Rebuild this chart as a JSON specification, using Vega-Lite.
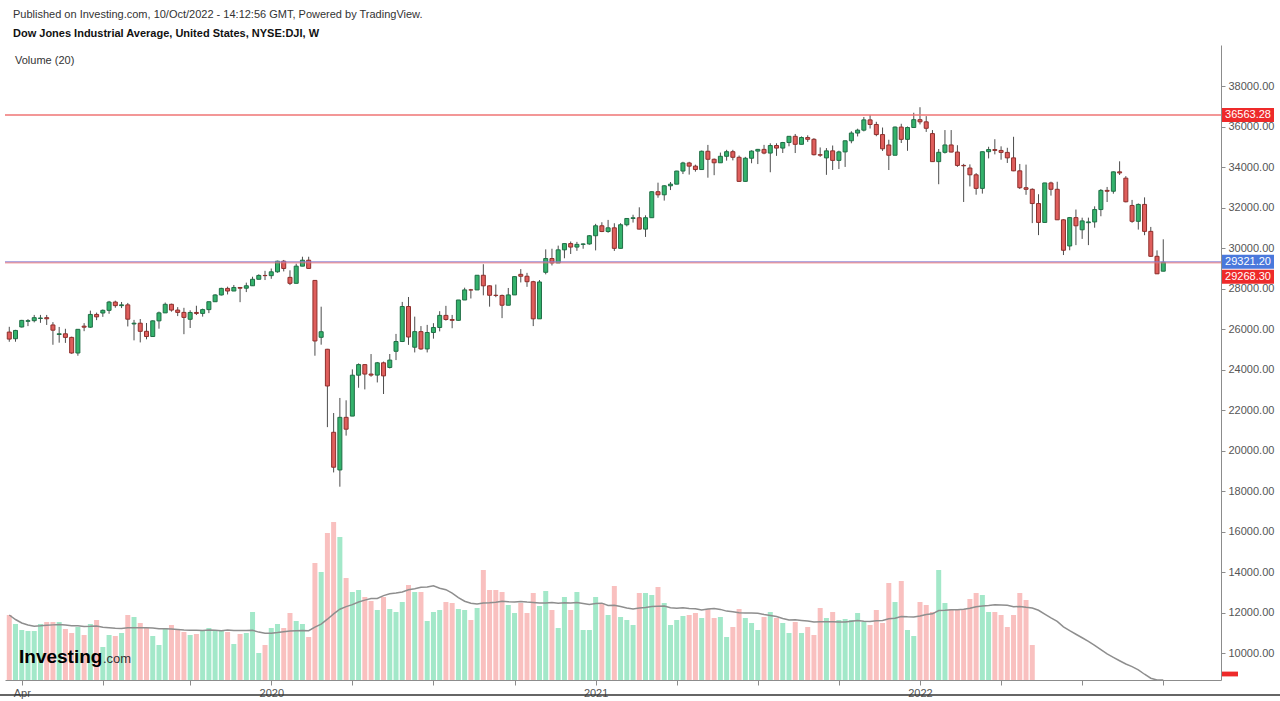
{
  "$schema": "https://vega.github.io/schema/vega-lite/v6.json",
  "width": 1216,
  "height": 635,
  "autosize": "none",
  "padding": {"left": 5, "top": 45, "right": 59, "bottom": 21},
  "background": "white",
  "title": {
    "text": "Published on Investing.com, 10/Oct/2022 - 14:12:56 GMT, Powered by TradingView.",
    "subtitle": "Dow Jones Industrial Average, United States, NYSE:DJI, W",
    "anchor": "start", "frame": "group", "dx": 8, "offset": 6,
    "font": "Liberation Sans", "fontSize": 11, "fontWeight": "normal", "color": "#333333",
    "subtitleFont": "Liberation Sans", "subtitleFontSize": 11, "subtitleFontWeight": "bold", "subtitleColor": "#111111",
    "subtitlePadding": 8
  },
  "config": {"view": {"stroke": null}, "font": "Liberation Sans", "axis": {"grid": false}, "scale": {"continuousPadding": 0}},
  "datasets": {
    "w": [
      {"d":"2019-03-18","o":25849,"h":26109,"l":25370,"c":25502,"v":1625},
      {"d":"2019-03-25","o":25520,"h":25959,"l":25372,"c":25929,"v":1400},
      {"d":"2019-04-01","o":26100,"h":26451,"l":26075,"c":26425,"v":1250},
      {"d":"2019-04-08","o":26380,"h":26487,"l":26143,"c":26412,"v":1225},
      {"d":"2019-04-15","o":26412,"h":26695,"l":26328,"c":26559,"v":1225},
      {"d":"2019-04-22","o":26520,"h":26696,"l":26305,"c":26543,"v":1400},
      {"d":"2019-04-29","o":26560,"h":26695,"l":26200,"c":26505,"v":1450},
      {"d":"2019-05-06","o":26200,"h":26340,"l":25222,"c":25942,"v":1450},
      {"d":"2019-05-13","o":25730,"h":26102,"l":25325,"c":25764,"v":1450},
      {"d":"2019-05-20","o":25764,"h":26011,"l":25314,"c":25586,"v":1275},
      {"d":"2019-05-27","o":25586,"h":25620,"l":24775,"c":24815,"v":1175},
      {"d":"2019-06-03","o":24815,"h":25984,"l":24680,"c":25984,"v":1325},
      {"d":"2019-06-10","o":26140,"h":26290,"l":25893,"c":26090,"v":1125},
      {"d":"2019-06-17","o":26090,"h":26907,"l":26058,"c":26719,"v":1400},
      {"d":"2019-06-24","o":26719,"h":26810,"l":26439,"c":26600,"v":1500},
      {"d":"2019-07-01","o":26790,"h":26966,"l":26600,"c":26922,"v":825},
      {"d":"2019-07-08","o":26922,"h":27388,"l":26753,"c":27332,"v":1125},
      {"d":"2019-07-15","o":27332,"h":27399,"l":27050,"c":27154,"v":1100},
      {"d":"2019-07-22","o":27154,"h":27335,"l":27033,"c":27192,"v":1175},
      {"d":"2019-07-29","o":27192,"h":27288,"l":26127,"c":26485,"v":1625},
      {"d":"2019-08-05","o":26250,"h":26450,"l":25440,"c":26287,"v":1575},
      {"d":"2019-08-12","o":26287,"h":26494,"l":25339,"c":25886,"v":1425},
      {"d":"2019-08-19","o":25886,"h":26297,"l":25491,"c":25629,"v":1300},
      {"d":"2019-08-26","o":25629,"h":26427,"l":25629,"c":26403,"v":1100},
      {"d":"2019-09-02","o":26403,"h":26860,"l":26015,"c":26797,"v":875},
      {"d":"2019-09-09","o":26797,"h":27306,"l":26797,"c":27220,"v":1300},
      {"d":"2019-09-16","o":27220,"h":27250,"l":26857,"c":26935,"v":1375},
      {"d":"2019-09-23","o":26935,"h":27080,"l":26637,"c":26820,"v":1250},
      {"d":"2019-09-30","o":26820,"h":27046,"l":25744,"c":26573,"v":1200},
      {"d":"2019-10-07","o":26480,"h":26925,"l":26050,"c":26817,"v":1125},
      {"d":"2019-10-14","o":26817,"h":27149,"l":26690,"c":26770,"v":1150},
      {"d":"2019-10-21","o":26770,"h":27006,"l":26611,"c":26958,"v":1250},
      {"d":"2019-10-28","o":26958,"h":27347,"l":26784,"c":27347,"v":1300},
      {"d":"2019-11-04","o":27347,"h":27717,"l":27347,"c":27681,"v":1250},
      {"d":"2019-11-11","o":27681,"h":28036,"l":27656,"c":28005,"v":1250},
      {"d":"2019-11-18","o":28005,"h":28090,"l":27706,"c":27876,"v":1200},
      {"d":"2019-11-25","o":27876,"h":28174,"l":27876,"c":28051,"v":900},
      {"d":"2019-12-02","o":28051,"h":28069,"l":27325,"c":28015,"v":1150},
      {"d":"2019-12-09","o":28015,"h":28290,"l":27823,"c":28135,"v":1175},
      {"d":"2019-12-16","o":28135,"h":28582,"l":28135,"c":28455,"v":1700},
      {"d":"2019-12-23","o":28455,"h":28701,"l":28455,"c":28645,"v":675},
      {"d":"2019-12-30","o":28645,"h":28873,"l":28418,"c":28635,"v":875},
      {"d":"2020-01-06","o":28635,"h":28987,"l":28478,"c":28824,"v":1300},
      {"d":"2020-01-13","o":28824,"h":29373,"l":28780,"c":29348,"v":1400},
      {"d":"2020-01-20","o":29348,"h":29410,"l":28844,"c":28990,"v":1300},
      {"d":"2020-01-27","o":28550,"h":28900,"l":28169,"c":28256,"v":1675},
      {"d":"2020-02-03","o":28256,"h":29225,"l":28256,"c":29103,"v":1475},
      {"d":"2020-02-10","o":29103,"h":29569,"l":29103,"c":29398,"v":1400},
      {"d":"2020-02-17","o":29398,"h":29568,"l":28992,"c":28992,"v":1075},
      {"d":"2020-02-24","o":28400,"h":28402,"l":24681,"c":25409,"v":2925},
      {"d":"2020-03-02","o":25590,"h":27102,"l":25226,"c":25865,"v":2700},
      {"d":"2020-03-09","o":25000,"h":25018,"l":21154,"c":23186,"v":3675},
      {"d":"2020-03-16","o":20900,"h":21850,"l":18917,"c":19174,"v":3950},
      {"d":"2020-03-23","o":19040,"h":22595,"l":18213,"c":21637,"v":3575},
      {"d":"2020-03-30","o":21637,"h":22479,"l":20735,"c":21053,"v":2550},
      {"d":"2020-04-06","o":21700,"h":24008,"l":21700,"c":23719,"v":2200},
      {"d":"2020-04-13","o":23719,"h":24300,"l":23099,"c":24242,"v":2250},
      {"d":"2020-04-20","o":24242,"h":24242,"l":23018,"c":23775,"v":2075},
      {"d":"2020-04-27","o":23775,"h":24764,"l":23643,"c":23724,"v":1975},
      {"d":"2020-05-04","o":23724,"h":24373,"l":23361,"c":24331,"v":1750},
      {"d":"2020-05-11","o":24331,"h":24390,"l":22790,"c":23685,"v":2075},
      {"d":"2020-05-18","o":24100,"h":24765,"l":24050,"c":24465,"v":1775},
      {"d":"2020-05-25","o":24900,"h":25758,"l":24465,"c":25383,"v":1700},
      {"d":"2020-06-01","o":25383,"h":27338,"l":25355,"c":27111,"v":1950},
      {"d":"2020-06-08","o":27111,"h":27581,"l":25217,"c":25606,"v":2375},
      {"d":"2020-06-15","o":25100,"h":26611,"l":24843,"c":25871,"v":2200},
      {"d":"2020-06-22","o":25871,"h":26144,"l":24971,"c":25016,"v":2200},
      {"d":"2020-06-29","o":25016,"h":26204,"l":24843,"c":25827,"v":1475},
      {"d":"2020-07-06","o":25827,"h":26288,"l":25523,"c":26075,"v":1700},
      {"d":"2020-07-13","o":26075,"h":26880,"l":25883,"c":26672,"v":1750},
      {"d":"2020-07-20","o":26672,"h":27143,"l":26412,"c":26470,"v":1950},
      {"d":"2020-07-27","o":26470,"h":26694,"l":26038,"c":26428,"v":1925},
      {"d":"2020-08-03","o":26428,"h":27433,"l":26415,"c":27433,"v":1775},
      {"d":"2020-08-10","o":27433,"h":28040,"l":27433,"c":27931,"v":1750},
      {"d":"2020-08-17","o":27931,"h":27981,"l":27507,"c":27930,"v":1500},
      {"d":"2020-08-24","o":27930,"h":28655,"l":27930,"c":28654,"v":1800},
      {"d":"2020-08-31","o":28654,"h":29199,"l":27664,"c":28133,"v":2750},
      {"d":"2020-09-07","o":28133,"h":28154,"l":27103,"c":27666,"v":2250},
      {"d":"2020-09-14","o":27666,"h":28195,"l":27571,"c":27657,"v":2250},
      {"d":"2020-09-21","o":27657,"h":27700,"l":26537,"c":27174,"v":2200},
      {"d":"2020-09-28","o":27174,"h":28026,"l":27174,"c":27683,"v":1875},
      {"d":"2020-10-05","o":27683,"h":28598,"l":27683,"c":28587,"v":1675},
      {"d":"2020-10-12","o":28700,"h":28958,"l":28299,"c":28606,"v":1925},
      {"d":"2020-10-19","o":28606,"h":28773,"l":28082,"c":28336,"v":1675},
      {"d":"2020-10-26","o":28336,"h":28380,"l":26144,"c":26502,"v":2175},
      {"d":"2020-11-02","o":26502,"h":28419,"l":26502,"c":28323,"v":1850},
      {"d":"2020-11-09","o":28800,"h":29933,"l":28700,"c":29480,"v":2225},
      {"d":"2020-11-16","o":29480,"h":29964,"l":29139,"c":29263,"v":1750},
      {"d":"2020-11-23","o":29263,"h":30117,"l":29263,"c":29910,"v":1300},
      {"d":"2020-11-30","o":29910,"h":30219,"l":29493,"c":30218,"v":2075},
      {"d":"2020-12-07","o":30218,"h":30320,"l":29705,"c":30046,"v":1750},
      {"d":"2020-12-14","o":30046,"h":30303,"l":29860,"c":30179,"v":2200},
      {"d":"2020-12-21","o":30179,"h":30226,"l":29964,"c":30200,"v":1250},
      {"d":"2020-12-28","o":30200,"h":30637,"l":30163,"c":30606,"v":1250},
      {"d":"2021-01-04","o":30606,"h":31193,"l":29882,"c":31098,"v":2075},
      {"d":"2021-01-11","o":31098,"h":31272,"l":30785,"c":30814,"v":1925},
      {"d":"2021-01-18","o":30814,"h":31388,"l":30753,"c":30997,"v":1625},
      {"d":"2021-01-25","o":30997,"h":31223,"l":29856,"c":29983,"v":2350},
      {"d":"2021-02-01","o":29983,"h":31226,"l":29983,"c":31148,"v":1575},
      {"d":"2021-02-08","o":31148,"h":31459,"l":31068,"c":31458,"v":1500},
      {"d":"2021-02-15","o":31458,"h":31643,"l":31255,"c":31494,"v":1375},
      {"d":"2021-02-22","o":31494,"h":32010,"l":30926,"c":30932,"v":2175},
      {"d":"2021-03-01","o":30932,"h":31614,"l":30547,"c":31496,"v":2175},
      {"d":"2021-03-08","o":31496,"h":32793,"l":31496,"c":32779,"v":2125},
      {"d":"2021-03-15","o":32779,"h":33227,"l":32482,"c":32628,"v":2325},
      {"d":"2021-03-22","o":32628,"h":33098,"l":32342,"c":33072,"v":1925},
      {"d":"2021-03-29","o":33072,"h":33259,"l":32862,"c":33153,"v":1375},
      {"d":"2021-04-05","o":33153,"h":33811,"l":33153,"c":33801,"v":1500},
      {"d":"2021-04-12","o":33801,"h":34257,"l":33652,"c":34200,"v":1600},
      {"d":"2021-04-19","o":34200,"h":34256,"l":33625,"c":34043,"v":1625},
      {"d":"2021-04-26","o":34043,"h":34116,"l":33771,"c":33875,"v":1675},
      {"d":"2021-05-03","o":33875,"h":34811,"l":33875,"c":34778,"v":1550},
      {"d":"2021-05-10","o":34778,"h":35091,"l":33473,"c":34382,"v":1775},
      {"d":"2021-05-17","o":34382,"h":34420,"l":33596,"c":34208,"v":1550},
      {"d":"2021-05-24","o":34208,"h":34712,"l":34208,"c":34529,"v":1575},
      {"d":"2021-05-31","o":34529,"h":34849,"l":34313,"c":34756,"v":1075},
      {"d":"2021-06-07","o":34756,"h":34849,"l":34327,"c":34480,"v":1325},
      {"d":"2021-06-14","o":34480,"h":34567,"l":33271,"c":33290,"v":1775},
      {"d":"2021-06-21","o":33290,"h":34501,"l":33271,"c":34433,"v":1550},
      {"d":"2021-06-28","o":34433,"h":34823,"l":34186,"c":34786,"v":1425},
      {"d":"2021-07-05","o":34786,"h":34893,"l":34145,"c":34870,"v":1250},
      {"d":"2021-07-12","o":34870,"h":35092,"l":34630,"c":34688,"v":1575},
      {"d":"2021-07-19","o":34688,"h":35171,"l":33741,"c":35062,"v":1700},
      {"d":"2021-07-26","o":35062,"h":35171,"l":34551,"c":34935,"v":1550},
      {"d":"2021-08-02","o":34935,"h":35239,"l":34692,"c":35209,"v":1425},
      {"d":"2021-08-09","o":35209,"h":35530,"l":35023,"c":35515,"v":1175},
      {"d":"2021-08-16","o":35515,"h":35631,"l":34690,"c":35120,"v":1450},
      {"d":"2021-08-23","o":35120,"h":35510,"l":35120,"c":35456,"v":1175},
      {"d":"2021-08-30","o":35456,"h":35565,"l":35241,"c":35369,"v":1325},
      {"d":"2021-09-06","o":35369,"h":35427,"l":34572,"c":34608,"v":1125},
      {"d":"2021-09-13","o":34608,"h":34965,"l":34498,"c":34585,"v":1800},
      {"d":"2021-09-20","o":34450,"h":34934,"l":33613,"c":34798,"v":1550},
      {"d":"2021-09-27","o":34798,"h":35062,"l":33855,"c":34326,"v":1700},
      {"d":"2021-10-04","o":34326,"h":34807,"l":33900,"c":34746,"v":1500},
      {"d":"2021-10-11","o":34746,"h":35304,"l":34004,"c":35295,"v":1525},
      {"d":"2021-10-18","o":35295,"h":35765,"l":35173,"c":35677,"v":1500},
      {"d":"2021-10-25","o":35677,"h":35892,"l":35510,"c":35820,"v":1675},
      {"d":"2021-11-01","o":35820,"h":36471,"l":35759,"c":36328,"v":1450},
      {"d":"2021-11-08","o":36328,"h":36565,"l":35901,"c":36100,"v":1375},
      {"d":"2021-11-15","o":36100,"h":36233,"l":35521,"c":35602,"v":1750},
      {"d":"2021-11-22","o":35602,"h":35950,"l":34792,"c":34899,"v":1425},
      {"d":"2021-11-29","o":35087,"h":35346,"l":33851,"c":34580,"v":2425},
      {"d":"2021-12-06","o":34580,"h":36001,"l":34580,"c":35971,"v":1950},
      {"d":"2021-12-13","o":35971,"h":36135,"l":35185,"c":35365,"v":2475},
      {"d":"2021-12-20","o":35365,"h":36000,"l":34800,"c":35950,"v":1250},
      {"d":"2021-12-27","o":35950,"h":36679,"l":35950,"c":36338,"v":1100},
      {"d":"2022-01-03","o":36338,"h":36952,"l":36103,"c":36231,"v":1950},
      {"d":"2022-01-10","o":36231,"h":36513,"l":35732,"c":35912,"v":1875},
      {"d":"2022-01-17","o":35650,"h":35824,"l":34264,"c":34265,"v":1700},
      {"d":"2022-01-24","o":34265,"h":34888,"l":33150,"c":34725,"v":2750},
      {"d":"2022-01-31","o":34725,"h":35824,"l":34665,"c":35089,"v":1925},
      {"d":"2022-02-07","o":35089,"h":35825,"l":34727,"c":34738,"v":1775},
      {"d":"2022-02-14","o":34738,"h":35076,"l":34008,"c":34079,"v":1750},
      {"d":"2022-02-21","o":34079,"h":34156,"l":32273,"c":34059,"v":1775},
      {"d":"2022-02-28","o":33950,"h":34130,"l":33040,"c":33615,"v":2025},
      {"d":"2022-03-07","o":33615,"h":33700,"l":32633,"c":32944,"v":2175},
      {"d":"2022-03-14","o":32944,"h":34755,"l":32687,"c":34755,"v":2125},
      {"d":"2022-03-21","o":34755,"h":35000,"l":34424,"c":34862,"v":1700},
      {"d":"2022-03-28","o":34862,"h":35372,"l":34623,"c":34818,"v":1700},
      {"d":"2022-04-04","o":34818,"h":35021,"l":34360,"c":34721,"v":1625},
      {"d":"2022-04-11","o":34721,"h":34950,"l":34200,"c":34451,"v":1325},
      {"d":"2022-04-18","o":34451,"h":35492,"l":33795,"c":33811,"v":1625},
      {"d":"2022-04-25","o":33811,"h":34150,"l":32913,"c":32977,"v":2175},
      {"d":"2022-05-02","o":32977,"h":34118,"l":32627,"c":32899,"v":2000},
      {"d":"2022-05-09","o":32899,"h":32945,"l":31229,"c":32196,"v":875},
      {"d":"2022-05-16","o":32196,"h":32655,"l":30636,"c":31262,"v":0},
      {"d":"2022-05-23","o":31262,"h":33218,"l":31253,"c":33213,"v":0},
      {"d":"2022-05-30","o":33213,"h":33275,"l":32587,"c":32900,"v":0},
      {"d":"2022-06-06","o":32900,"h":33272,"l":31393,"c":31393,"v":0},
      {"d":"2022-06-13","o":31393,"h":31420,"l":29653,"c":29889,"v":0},
      {"d":"2022-06-20","o":30100,"h":31532,"l":29889,"c":31501,"v":0},
      {"d":"2022-06-27","o":31501,"h":31900,"l":30143,"c":31097,"v":0},
      {"d":"2022-07-04","o":30900,"h":31498,"l":30450,"c":31338,"v":0},
      {"d":"2022-07-11","o":31250,"h":31500,"l":30143,"c":31288,"v":0},
      {"d":"2022-07-18","o":31288,"h":32058,"l":31002,"c":31899,"v":0},
      {"d":"2022-07-25","o":31899,"h":32910,"l":31568,"c":32845,"v":0},
      {"d":"2022-08-01","o":32845,"h":33015,"l":32271,"c":32803,"v":0},
      {"d":"2022-08-08","o":32803,"h":33779,"l":32682,"c":33761,"v":0},
      {"d":"2022-08-15","o":33761,"h":34281,"l":33607,"c":33707,"v":0},
      {"d":"2022-08-22","o":33450,"h":33550,"l":32255,"c":32283,"v":0},
      {"d":"2022-08-29","o":32100,"h":32375,"l":31245,"c":31318,"v":0},
      {"d":"2022-09-05","o":31318,"h":32200,"l":30910,"c":32152,"v":0},
      {"d":"2022-09-12","o":32152,"h":32500,"l":30633,"c":30822,"v":0},
      {"d":"2022-09-19","o":30822,"h":31041,"l":29568,"c":29590,"v":0},
      {"d":"2022-09-26","o":29590,"h":29883,"l":28715,"c":28726,"v":0},
      {"d":"2022-10-03","o":28855,"h":30430,"l":28855,"c":29297,"v":0}
    ],
    "levels": [
      {"v": 36563.28, "k": "level"},
      {"v": 29321.20, "k": "ask"},
      {"v": 29268.30, "k": "bid"}
    ]
  },
  "resolve": {"scale": {"y": "independent"}},
  "layer": [
    {
      "data": {"name": "w"},
      "layer": [
        {
          "mark": {"type": "bar", "size": 5},
          "encoding": {
            "x": {"field": "d", "type": "temporal", "scale": {"type": "utc", "nice": false, "padding": 0, "domain": [{"year": 2019, "month": 3, "date": 13, "hours": 5, "utc": true}, {"year": 2022, "month": 12, "date": 6, "hours": 19, "utc": true}]}},
            "y": {"field": "v", "type": "quantitative", "scale": {"domain": [0, 15875], "nice": false, "zero": false, "padding": 0}, "axis": null},
            "fill": {"condition": {"test": "datum.c >= datum.o", "value": "#a3e8c9"}, "value": "#f9c0bf"}
          }
        },
        {
          "transform": [
            {"window": [{"op": "mean", "field": "v", "as": "ma"}], "frame": [-19, 0], "sort": [{"field": "d"}]}
          ],
          "mark": {"type": "line", "color": "#8e8e8e", "strokeWidth": 1.5},
          "encoding": {
            "x": {"field": "d", "type": "temporal", "scale": {"type": "utc", "nice": false, "padding": 0, "domain": [{"year": 2019, "month": 3, "date": 13, "hours": 5, "utc": true}, {"year": 2022, "month": 12, "date": 6, "hours": 19, "utc": true}]}},
            "y": {"field": "ma", "type": "quantitative", "scale": {"domain": [0, 15875], "nice": false, "zero": false, "padding": 0}, "axis": null}
          }
        }
      ]
    },
    {
      "layer": [
        {
          "data": {"name": "w"},
          "mark": {"type": "rule", "color": "#4d4d4d", "strokeWidth": 1},
          "encoding": {
            "x": {
              "field": "d", "type": "temporal",
              "scale": {"type": "utc", "nice": false, "padding": 0, "domain": [{"year": 2019, "month": 3, "date": 13, "hours": 5, "utc": true}, {"year": 2022, "month": 12, "date": 6, "hours": 19, "utc": true}]},
              "axis": {
                "title": null,
                "values": [
                  {"year": 2019, "month": 4, "date": 1, "utc": true},
                  {"year": 2019, "month": 7, "date": 1, "utc": true},
                  {"year": 2019, "month": 10, "date": 7, "utc": true},
                  {"year": 2020, "month": 1, "date": 6, "utc": true},
                  {"year": 2020, "month": 4, "date": 6, "utc": true},
                  {"year": 2020, "month": 7, "date": 6, "utc": true},
                  {"year": 2020, "month": 10, "date": 5, "utc": true},
                  {"year": 2021, "month": 1, "date": 4, "utc": true},
                  {"year": 2021, "month": 4, "date": 5, "utc": true},
                  {"year": 2021, "month": 7, "date": 5, "utc": true},
                  {"year": 2021, "month": 10, "date": 4, "utc": true},
                  {"year": 2022, "month": 1, "date": 3, "utc": true},
                  {"year": 2022, "month": 4, "date": 4, "utc": true},
                  {"year": 2022, "month": 7, "date": 4, "utc": true},
                  {"year": 2022, "month": 10, "date": 3, "utc": true}
                ],
                "labelExpr": "utcmonth(datum.value) == 0 ? utcFormat(datum.value, '%Y') : ((utcyear(datum.value) == 2019 && utcmonth(datum.value) == 3) ? 'Apr' : '')",
                "domainColor": "#8c8c8c", "tickColor": "#8c8c8c", "tickSize": 5,
                "labelColor": "#555555", "labelFontSize": 11, "labelFont": "Liberation Sans", "labelPadding": 2, "labelFlush": false, "labelOverlap": false
              }
            },
            "y": {
              "field": "l", "type": "quantitative",
              "scale": {"domain": [8667, 40025], "nice": false, "zero": false, "padding": 0},
              "axis": {
                "orient": "right", "title": null, "format": ".2f",
                "values": [10000, 12000, 14000, 16000, 18000, 20000, 22000, 24000, 26000, 28000, 30000, 32000, 34000, 36000, 38000],
                "domainColor": "#8c8c8c", "tickColor": "#8c8c8c", "tickSize": 4,
                "labelColor": "#555555", "labelFontSize": 11, "labelFont": "Liberation Sans", "labelPadding": 3
              }
            },
            "y2": {"field": "h"}
          }
        },
        {
          "data": {"name": "w"},
          "mark": {"type": "bar", "size": 4, "strokeWidth": 1},
          "encoding": {
            "x": {"field": "d", "type": "temporal", "scale": {"type": "utc", "nice": false, "padding": 0, "domain": [{"year": 2019, "month": 3, "date": 13, "hours": 5, "utc": true}, {"year": 2022, "month": 12, "date": 6, "hours": 19, "utc": true}]}},
            "y": {"field": "o", "type": "quantitative", "scale": {"domain": [8667, 40025], "nice": false, "zero": false, "padding": 0}, "axis": {"title": null, "orient": "right"}},
            "y2": {"field": "c"},
            "fill": {"condition": {"test": "datum.c >= datum.o", "value": "#34b26c"}, "value": "#df5e5c"},
            "stroke": {"condition": {"test": "datum.c >= datum.o", "value": "#1f6e45"}, "value": "#8e2f2c"}
          }
        },
        {
          "data": {"name": "levels"},
          "transform": [{"filter": "datum.k == 'level'"}],
          "mark": {"type": "rule", "color": "#ef7474", "strokeWidth": 1.5},
          "encoding": {
            "y": {"field": "v", "type": "quantitative", "scale": {"domain": [8667, 40025], "nice": false, "zero": false, "padding": 0}, "axis": {"title": null, "orient": "right"}}
          }
        },
        {
          "data": {"name": "levels"},
          "transform": [{"filter": "datum.k == 'bid'"}],
          "mark": {"type": "rule", "color": "#ef7474", "strokeWidth": 1},
          "encoding": {
            "y": {"field": "v", "type": "quantitative", "scale": {"domain": [8667, 40025], "nice": false, "zero": false, "padding": 0}, "axis": {"title": null, "orient": "right"}}
          }
        },
        {
          "data": {"name": "levels"},
          "transform": [{"filter": "datum.k == 'ask'"}],
          "mark": {"type": "rule", "color": "#8a80d0", "strokeWidth": 1, "opacity": 0.9},
          "encoding": {
            "y": {"field": "v", "type": "quantitative", "scale": {"domain": [8667, 40025], "nice": false, "zero": false, "padding": 0}, "axis": {"title": null, "orient": "right"}}
          }
        },
        {
          "data": {"name": "levels"},
          "transform": [{"filter": "datum.k != 'bid'"}],
          "mark": {"type": "point", "shape": "M-1,-0.27H1V0.27H-1Z", "size": 2704, "filled": true, "opacity": 1, "xOffset": 27, "clip": false},
          "encoding": {
            "x": {"datum": {"year": 2022, "month": 12, "date": 6, "hours": 19, "utc": true}, "type": "temporal", "scale": {"type": "utc", "nice": false, "padding": 0, "domain": [{"year": 2019, "month": 3, "date": 13, "hours": 5, "utc": true}, {"year": 2022, "month": 12, "date": 6, "hours": 19, "utc": true}]}},
            "y": {"field": "v", "type": "quantitative", "scale": {"domain": [8667, 40025], "nice": false, "zero": false, "padding": 0}, "axis": {"title": null, "orient": "right"}},
            "color": {"field": "k", "type": "nominal", "scale": {"domain": ["level", "ask", "bid"], "range": ["#ee2a2a", "#4a78dc", "#ee2a2a"]}, "legend": null}
          }
        },
        {
          "data": {"name": "levels"},
          "transform": [{"filter": "datum.k != 'bid'"}],
          "mark": {"type": "text", "dx": 27, "align": "center", "baseline": "middle", "fill": "#ffffff", "fontSize": 11, "font": "Liberation Sans"},
          "encoding": {
            "x": {"datum": {"year": 2022, "month": 12, "date": 6, "hours": 19, "utc": true}, "type": "temporal", "scale": {"type": "utc", "nice": false, "padding": 0, "domain": [{"year": 2019, "month": 3, "date": 13, "hours": 5, "utc": true}, {"year": 2022, "month": 12, "date": 6, "hours": 19, "utc": true}]}},
            "y": {"field": "v", "type": "quantitative", "scale": {"domain": [8667, 40025], "nice": false, "zero": false, "padding": 0}, "axis": {"title": null, "orient": "right"}},
            "text": {"field": "v", "type": "quantitative", "format": ".2f"}
          }
        },
        {
          "data": {"name": "levels"},
          "transform": [{"filter": "datum.k == 'bid'"}],
          "mark": {"type": "point", "shape": "M-1,-0.27H1V0.27H-1Z", "size": 2704, "filled": true, "opacity": 1, "xOffset": 27, "yOffset": 14, "color": "#ee2a2a", "clip": false},
          "encoding": {
            "x": {"datum": {"year": 2022, "month": 12, "date": 6, "hours": 19, "utc": true}, "type": "temporal", "scale": {"type": "utc", "nice": false, "padding": 0, "domain": [{"year": 2019, "month": 3, "date": 13, "hours": 5, "utc": true}, {"year": 2022, "month": 12, "date": 6, "hours": 19, "utc": true}]}},
            "y": {"field": "v", "type": "quantitative", "scale": {"domain": [8667, 40025], "nice": false, "zero": false, "padding": 0}, "axis": {"title": null, "orient": "right"}}
          }
        },
        {
          "data": {"name": "levels"},
          "transform": [{"filter": "datum.k == 'bid'"}],
          "mark": {"type": "text", "dx": 27, "dy": 14, "align": "center", "baseline": "middle", "fill": "#ffffff", "fontSize": 11, "font": "Liberation Sans"},
          "encoding": {
            "x": {"datum": {"year": 2022, "month": 12, "date": 6, "hours": 19, "utc": true}, "type": "temporal", "scale": {"type": "utc", "nice": false, "padding": 0, "domain": [{"year": 2019, "month": 3, "date": 13, "hours": 5, "utc": true}, {"year": 2022, "month": 12, "date": 6, "hours": 19, "utc": true}]}},
            "y": {"field": "v", "type": "quantitative", "scale": {"domain": [8667, 40025], "nice": false, "zero": false, "padding": 0}, "axis": {"title": null, "orient": "right"}},
            "text": {"field": "v", "type": "quantitative", "format": ".2f"}
          }
        },
        {
          "data": {"values": [{"t": "volume tag"}]},
          "mark": {"type": "point", "shape": "M-1,-0.3H1V0.3H-1Z", "size": 256, "filled": true, "opacity": 1, "xOffset": 9, "color": "#ee2a2a", "clip": false},
          "encoding": {
            "x": {"datum": {"year": 2022, "month": 12, "date": 6, "hours": 19, "utc": true}, "type": "temporal", "scale": {"type": "utc", "nice": false, "padding": 0, "domain": [{"year": 2019, "month": 3, "date": 13, "hours": 5, "utc": true}, {"year": 2022, "month": 12, "date": 6, "hours": 19, "utc": true}]}},
            "y": {"datum": 8963, "type": "quantitative", "scale": {"domain": [8667, 40025], "nice": false, "zero": false, "padding": 0}, "axis": {"title": null, "orient": "right"}}
          }
        },
        {
          "data": {"values": [{"t": "Volume (20)"}]},
          "mark": {"type": "text", "dx": 10, "align": "left", "baseline": "middle", "fill": "#333333", "fontSize": 11, "font": "Liberation Sans"},
          "encoding": {
            "x": {"datum": {"year": 2019, "month": 3, "date": 13, "hours": 5, "utc": true}, "type": "temporal", "scale": {"type": "utc", "nice": false, "padding": 0, "domain": [{"year": 2019, "month": 3, "date": 13, "hours": 5, "utc": true}, {"year": 2022, "month": 12, "date": 6, "hours": 19, "utc": true}]}},
            "y": {"datum": 39235, "type": "quantitative", "scale": {"domain": [8667, 40025], "nice": false, "zero": false, "padding": 0}, "axis": {"title": null, "orient": "right"}},
            "text": {"field": "t"}
          }
        },
        {
          "data": {"values": [{"t": "Investing"}]},
          "mark": {"type": "text", "dx": 14, "align": "left", "baseline": "alphabetic", "fill": "#000000", "fontSize": 19, "fontWeight": "bold", "font": "Liberation Sans"},
          "encoding": {
            "x": {"datum": {"year": 2019, "month": 3, "date": 13, "hours": 5, "utc": true}, "type": "temporal", "scale": {"type": "utc", "nice": false, "padding": 0, "domain": [{"year": 2019, "month": 3, "date": 13, "hours": 5, "utc": true}, {"year": 2022, "month": 12, "date": 6, "hours": 19, "utc": true}]}},
            "y": {"datum": 9506, "type": "quantitative", "scale": {"domain": [8667, 40025], "nice": false, "zero": false, "padding": 0}, "axis": {"title": null, "orient": "right"}},
            "text": {"field": "t"}
          }
        },
        {
          "data": {"values": [{"t": ".com"}]},
          "mark": {"type": "text", "dx": 98, "align": "left", "baseline": "alphabetic", "fill": "#333333", "fontSize": 13, "font": "Liberation Sans"},
          "encoding": {
            "x": {"datum": {"year": 2019, "month": 3, "date": 13, "hours": 5, "utc": true}, "type": "temporal", "scale": {"type": "utc", "nice": false, "padding": 0, "domain": [{"year": 2019, "month": 3, "date": 13, "hours": 5, "utc": true}, {"year": 2022, "month": 12, "date": 6, "hours": 19, "utc": true}]}},
            "y": {"datum": 9506, "type": "quantitative", "scale": {"domain": [8667, 40025], "nice": false, "zero": false, "padding": 0}, "axis": {"title": null, "orient": "right"}},
            "text": {"field": "t"}
          }
        },
        {
          "data": {"values": [{"t": "frame"}]},
          "mark": {"type": "point", "shape": "M-1,-0.0012H1V0.0012H-1Z", "size": 1638400, "filled": true, "opacity": 1, "color": "#333333", "xOffset": 635, "yOffset": 15, "clip": false},
          "encoding": {
            "x": {"datum": {"year": 2019, "month": 3, "date": 13, "hours": 5, "utc": true}, "type": "temporal", "scale": {"type": "utc", "nice": false, "padding": 0, "domain": [{"year": 2019, "month": 3, "date": 13, "hours": 5, "utc": true}, {"year": 2022, "month": 12, "date": 6, "hours": 19, "utc": true}]}},
            "y": {"datum": 8667, "type": "quantitative", "scale": {"domain": [8667, 40025], "nice": false, "zero": false, "padding": 0}, "axis": {"title": null, "orient": "right"}}
          }
        }
      ]
    }
  ]
}
